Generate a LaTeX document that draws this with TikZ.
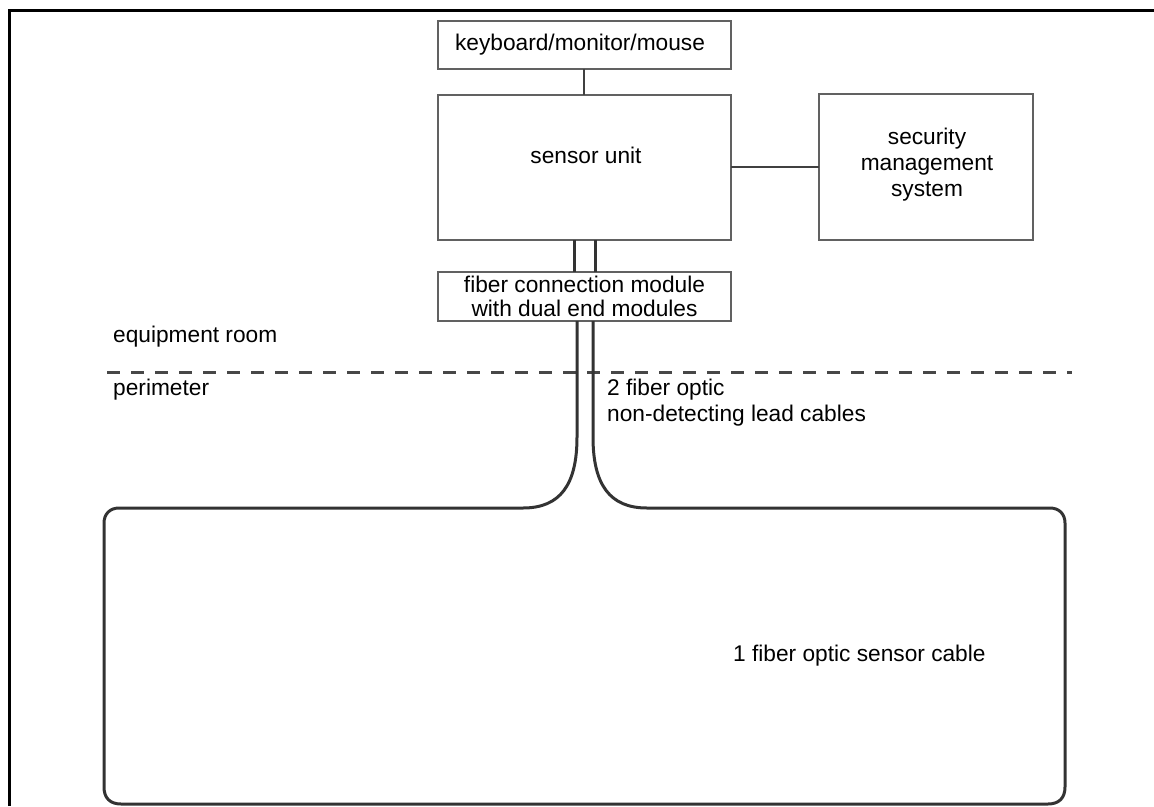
\documentclass[tikz,border=0pt]{standalone}
\usepackage{fontspec}
\setmainfont{Liberation Sans}
\begin{document}
\begin{tikzpicture}[x=1pt,y=-1pt,
  box/.style={draw=black!62,line width=1.4pt},
  conn/.style={draw=black!75,line width=2pt},
  cable/.style={draw=black!80,line width=3pt,line cap=butt,line join=round},
  lbl/.style={inner sep=0pt,font=\fontsize{22.7}{26}\selectfont},
]
\useasboundingbox (0,0) rectangle (1154,806);
% frame
\draw[line width=3pt] (9,806) -- (9,10) -- (1154,10);
% boxes
\draw[box] (438,21) rectangle (731,69);
\node[lbl] (kbd) at (580,45) {keyboard/monitor/mouse};
\draw[box] (438,95) rectangle (731,240);
\node[lbl] (su) at (586,155) {sensor unit};
\draw[box] (819,94) rectangle (1033,240);
\node[lbl,align=center] (sms) at (927,165) {security\\management\\system};
\draw[box] (438,272) rectangle (731,321);
\node[lbl,align=center,font=\fontsize{22.7}{23.5}\selectfont] (fcm) at (584.5,296.5) {fiber connection module\\with dual end modules};
% named anchor coordinates
\coordinate (kbdS) at (584,69);
\coordinate (suN) at (584,95);
\coordinate (suE) at (731,167);
\coordinate (smsW) at (819,167);
\coordinate (suS1) at (574,240);
\coordinate (suS2) at (595,240);
\coordinate (fcmN1) at (574,272);
\coordinate (fcmN2) at (595,272);
\coordinate (fcmS1) at (577,321);
\coordinate (fcmS2) at (593,321);
% connectors
\draw[conn] (kbdS) -- (suN);
\draw[conn] (suE) -- (smsW);
\draw[cable] (suS1) -- (fcmN1);
\draw[cable] (suS2) -- (fcmN2);
% dashed separator
\draw[draw=black!72,line width=3pt,dash pattern=on 13pt off 11pt] (107,372) -- (1072,372);
\node[lbl,anchor=west] (eq) at (113,337) {equipment room};
\node[lbl,anchor=west] (per) at (113,390) {perimeter};
\node[lbl,anchor=north west,align=left] (lead) at (607,379) {2 fiber optic\\non-detecting lead cables};
% sensor cable loop
\draw[cable] (fcmS1) -- (577,437)
  .. controls (577,485) and (560,508) .. (523,508)
  -- (119,508) .. controls (110,508) and (104,514) .. (104,523)
  -- (104,787) .. controls (104,798) and (110,804) .. (121,804)
  -- (1048,804) .. controls (1059,804) and (1065,798) .. (1065,787)
  -- (1065,523) .. controls (1065,514) and (1059,508) .. (1050,508)
  -- (647,508) .. controls (610,508) and (593,485) .. (593,437)
  -- (fcmS2);
\node[lbl,anchor=west] (sc) at (733,656) {1 fiber optic sensor cable};
\end{tikzpicture}
\end{document}
